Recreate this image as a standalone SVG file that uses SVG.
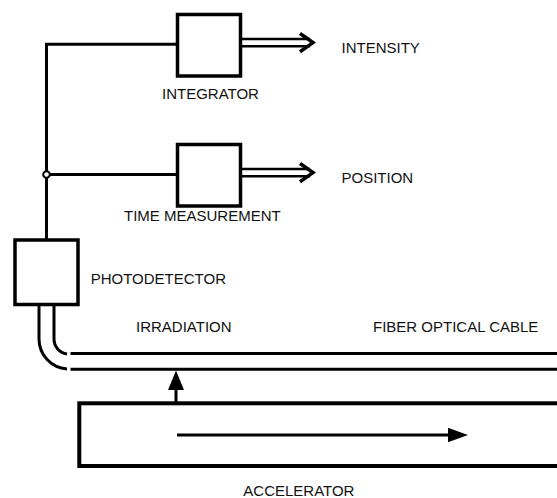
<svg xmlns="http://www.w3.org/2000/svg" width="557" height="498" viewBox="0 0 557 498">
<style>
.box{fill:none;stroke:#000;stroke-width:3.5}
.ln{fill:none;stroke:#000;stroke-width:3}
.dl{fill:none;stroke:#000;stroke-width:2.5}
.chev{fill:none;stroke:#000;stroke-width:3.5;stroke-linejoin:miter}
.t{font-family:"Liberation Sans",Arial,sans-serif;font-size:15px;fill:#111}
</style>
<rect width="557" height="498" fill="#fff"/>
<g id="connectors">
<path class="ln" d="M46.5 240 V44.3 H177.5"/>
<path class="ln" d="M46.5 174.5 H177.5"/>
<circle cx="46.5" cy="174.5" r="3.3" fill="#fff" stroke="#000" stroke-width="2"/>
<path class="dl" d="M242 39 H310 M242 46.2 H310"/>
<polyline class="chev" points="300,33.5 313,42.6 300,51.7"/>
<path class="dl" d="M242 169 H310 M242 176.2 H310"/>
<polyline class="chev" points="300,163.5 313,172.6 300,181.7"/>
<path class="ln" d="M39 306 V339 A30 30 0 0 0 67 368.9"/>
<path class="ln" d="M54 306 V339 A15 15 0 0 0 67 353.9"/>
<path class="ln" d="M70.5 353.5 H557 M70.5 369.2 H557"/>
<path class="ln" d="M176 403 V388"/>
<polygon points="168,390 176,370.5 184,390" fill="#000"/>
<path class="ln" d="M177 435 H450"/>
<polygon points="448,427.7 468,435 448,442.3" fill="#000"/>
</g>
<g id="integrator">
<rect class="box" x="177.5" y="14.5" width="63" height="61.5"/>
<text class="t" x="162" y="99.3">INTEGRATOR</text>
</g>
<g id="time-measurement">
<rect class="box" x="177.5" y="144.5" width="63" height="61.5"/>
<text class="t" x="124" y="220.7">TIME MEASUREMENT</text>
</g>
<g id="photodetector">
<rect class="box" x="15" y="240" width="63" height="64.5"/>
<text class="t" x="90.7" y="284">PHOTODETECTOR</text>
</g>
<g id="intensity"><text class="t" x="341.5" y="52.7">INTENSITY</text></g>
<g id="position"><text class="t" x="341.5" y="182.7">POSITION</text></g>
<g id="irradiation"><text class="t" x="136" y="331.7">IRRADIATION</text></g>
<g id="fiber-optical-cable"><text class="t" x="373" y="331.7">FIBER OPTICAL CABLE</text></g>
<g id="accelerator">
<rect x="79.3" y="403.3" width="500" height="62.7" fill="none" stroke="#000" stroke-width="4"/>
<text class="t" x="243.3" y="496">ACCELERATOR</text>
</g>
</svg>
